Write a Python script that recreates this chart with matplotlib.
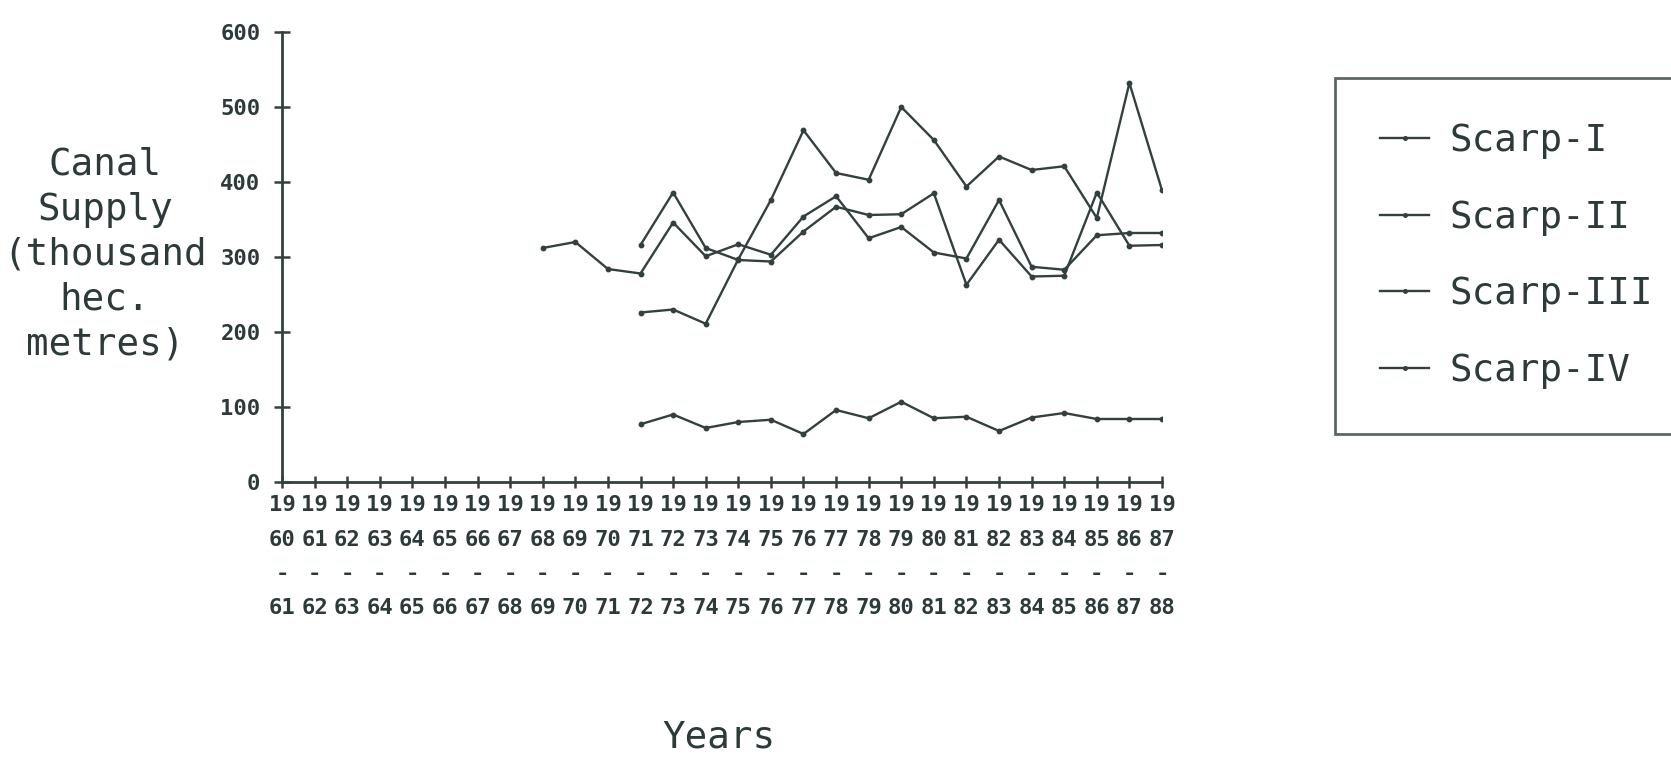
import matplotlib
matplotlib.use("Agg")
import numpy as np
import matplotlib.pyplot as plt

# crop years shown on the x axis (1960-61 ... 1987-88)
years = list(range(1960, 1988))

# canal supply, thousand hectare metres
years_scarp1 = [1971, 1972, 1973, 1974, 1975, 1976, 1977, 1978, 1979, 1980,
                1981, 1982, 1983, 1984, 1985, 1986, 1987]
scarp1 = [226, 230, 211, 297, 376, 469, 412, 403, 500, 456,
          394, 434, 416, 421, 352, 532, 389]

years_scarp2 = [1971, 1972, 1973, 1974, 1975, 1976, 1977, 1978, 1979, 1980,
                1981, 1982, 1983, 1984, 1985, 1986, 1987]
scarp2 = [316, 386, 312, 296, 294, 334, 367, 356, 357, 385,
          263, 323, 274, 275, 386, 315, 316]

years_scarp3 = [1968, 1969, 1970, 1971, 1972, 1973, 1974, 1975, 1976, 1977,
                1978, 1979, 1980, 1981, 1982, 1983, 1984, 1985, 1986, 1987]
scarp3 = [312, 320, 284, 278, 346, 301, 317, 303, 354, 381,
          325, 340, 306, 298, 376, 287, 283, 329, 332, 332]

years_scarp4 = [1971, 1972, 1973, 1974, 1975, 1976, 1977, 1978, 1979, 1980,
                1981, 1982, 1983, 1984, 1985, 1986, 1987]
scarp4 = [77, 90, 72, 80, 83, 64, 96, 85, 107, 85,
          87, 68, 86, 92, 84, 84, 84]

series = [
    ("Scarp-I", years_scarp1, scarp1),
    ("Scarp-II", years_scarp2, scarp2),
    ("Scarp-III", years_scarp3, scarp3),
    ("Scarp-IV", years_scarp4, scarp4),
]

y_ticks = [0, 100, 200, 300, 400, 500, 600]

INK = "#34403f"
TEXT = "#2e3a3a"
MONO = "DejaVu Sans Mono"

fig = plt.figure(figsize=(16.71, 7.61), dpi=100)
fig.patch.set_facecolor("white")
ax = fig.add_axes([282 / 1671, 1 - 482 / 761, 880 / 1671, 450 / 761])

for name, xs, ys in series:
    ax.plot(xs, ys, color=INK, lw=1.7, marker="o", ms=3.2, label=name)

ax.set_xlim(1960, 1987)
ax.set_ylim(0, 600)

for side in ["top", "right"]:
    ax.spines[side].set_visible(False)
for side in ["left", "bottom"]:
    ax.spines[side].set_color(INK)
    ax.spines[side].set_linewidth(2.0)

ax.set_yticks(y_ticks)
ax.set_yticklabels([str(v) for v in y_ticks], fontfamily=MONO,
                   fontweight="bold", fontsize=16, color=TEXT)
ax.set_xticks(years)
ax.set_xticklabels([f"19\n{y % 100:02d}\n-\n{(y + 1) % 100:02d}" for y in years],
                   fontfamily=MONO, fontweight="bold", fontsize=16,
                   color=TEXT, linespacing=1.9, va="top")
ax.tick_params(axis="y", direction="inout", length=11, width=1.8,
               color=INK, pad=10)
ax.tick_params(axis="x", direction="inout", length=9, width=1.8,
               color=INK, pad=5)

ax.set_ylabel("Canal\nSupply\n(thousand\nhec.\nmetres)", rotation=0,
              fontfamily=MONO, fontsize=27, color=TEXT,
              ha="center", va="center", linespacing=1.32)
ax.yaxis.set_label_coords(-0.201, 0.505)
ax.set_xlabel("Years", fontfamily=MONO, fontsize=27, color=TEXT, va="center")
ax.xaxis.set_label_coords(0.497, -0.567)

leg = ax.legend(loc="center left", bbox_to_anchor=(1.197, 0.502),
                borderaxespad=0, frameon=True, fancybox=False,
                prop={"family": MONO, "size": 27},
                handlelength=1.3, handletextpad=0.55, labelspacing=1.08,
                borderpad=1.2, markerscale=0.8)
leg.get_frame().set_edgecolor(INK)
leg.get_frame().set_linewidth(2.0)
for t in leg.get_texts():
    t.set_color(TEXT)

fig.savefig("out.png", dpi=100, facecolor="white")
